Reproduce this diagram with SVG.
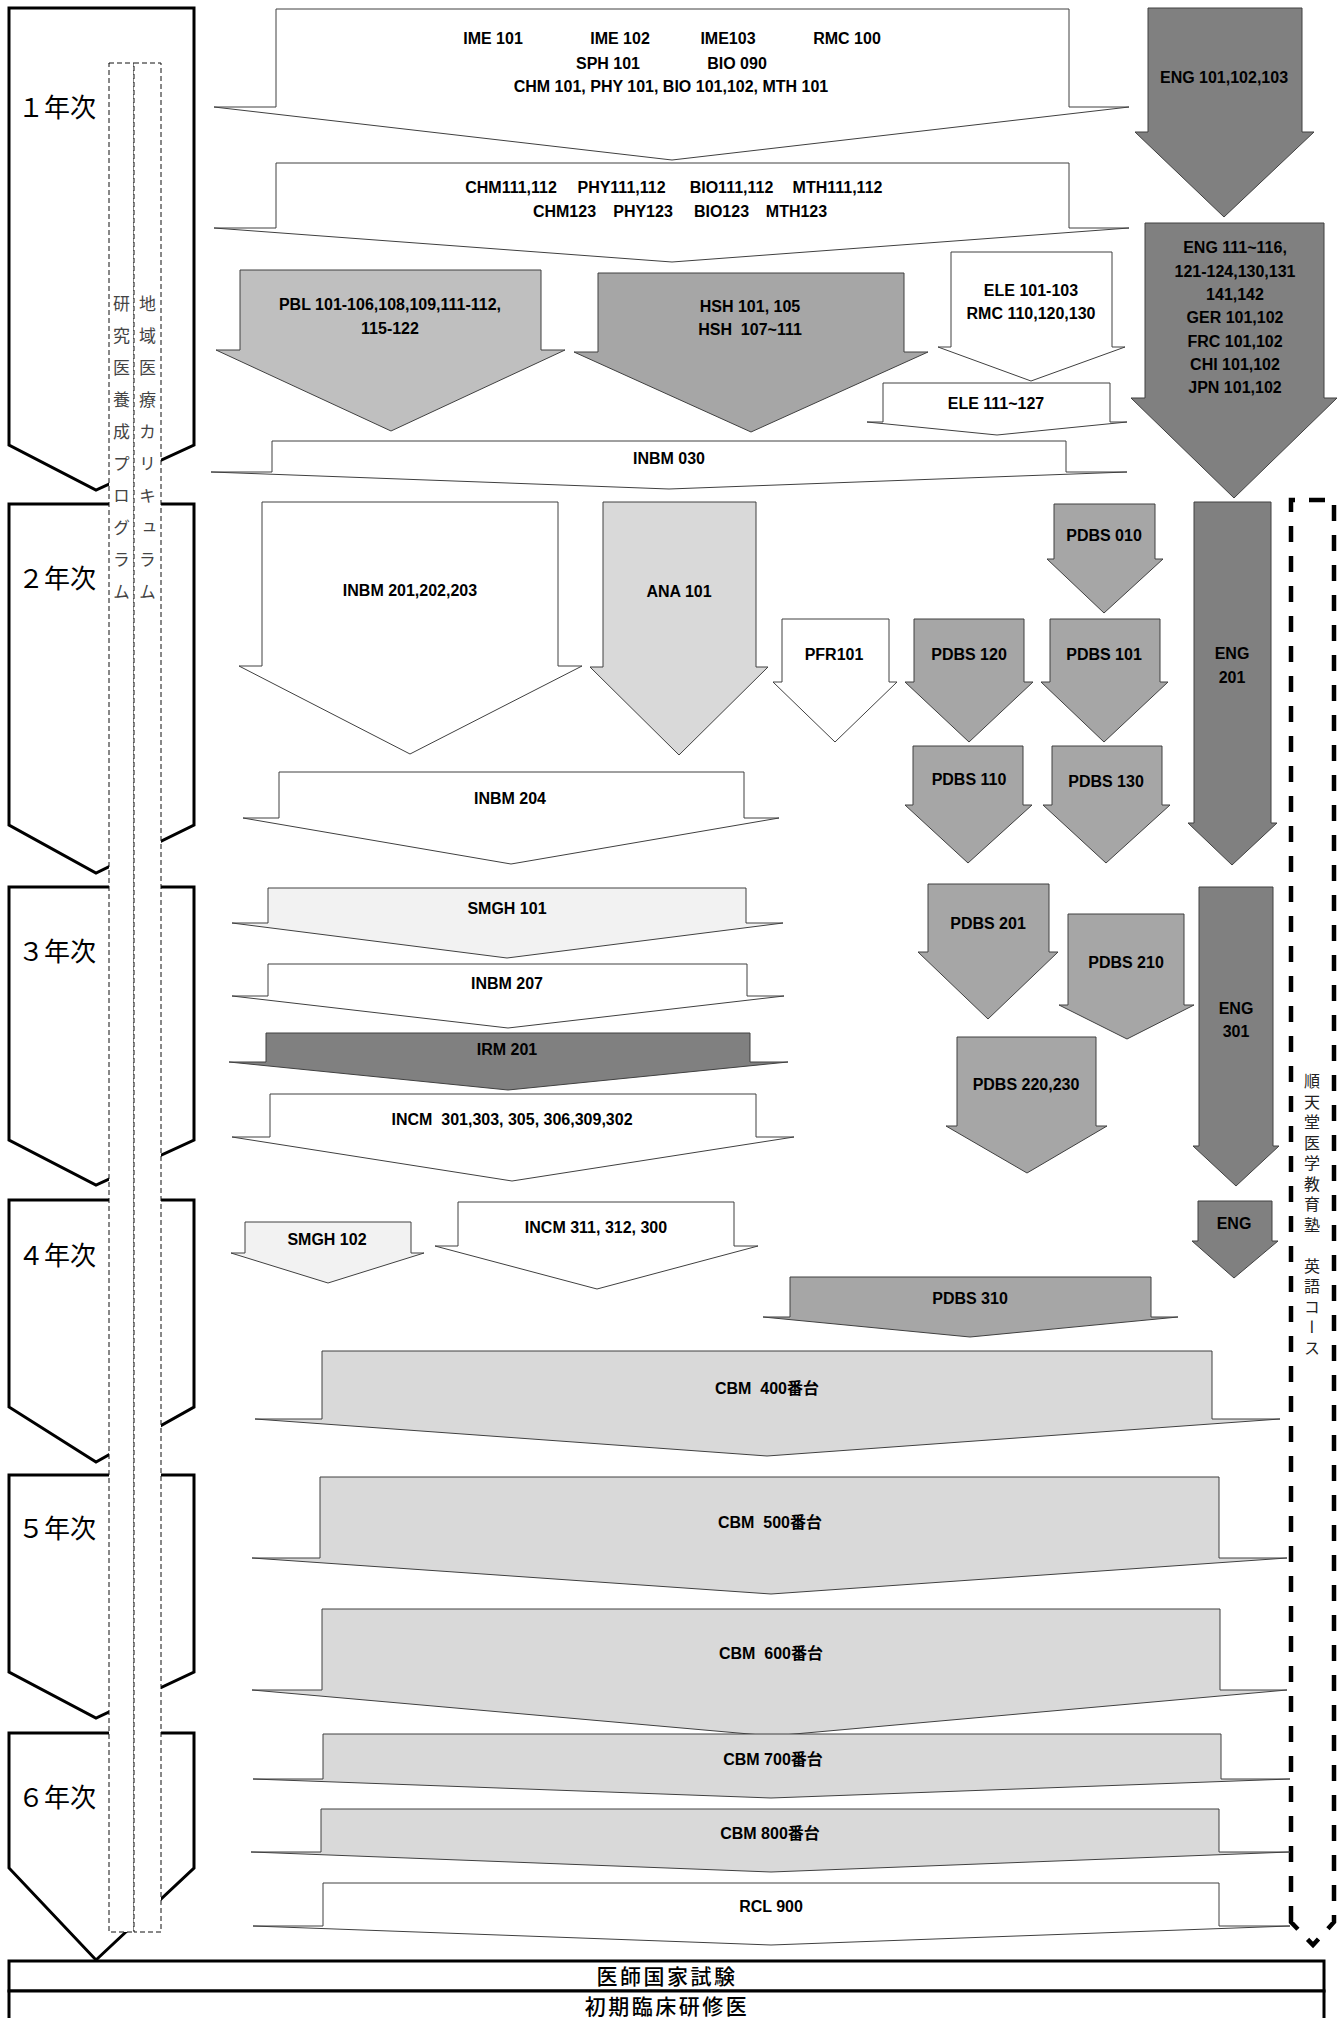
<svg xmlns="http://www.w3.org/2000/svg" width="1343" height="2018" viewBox="0 0 1343 2018">
<style>
.yr{fill:#fff;stroke:#000;stroke-width:3;stroke-linejoin:miter}
.ar{stroke:#404040;stroke-width:1;stroke-linejoin:miter}
.w{fill:#fff}.g1{fill:#f2f2f2}.g2{fill:#d9d9d9}.g3{fill:#bfbfbf}.g4{fill:#a6a6a6}.g5{fill:#808080}
.t{font-family:"Liberation Sans","Noto Sans CJK JP",Arial,sans-serif;font-weight:bold;font-size:16px;fill:#000;text-anchor:middle}
.yl{font-family:"Noto Sans CJK JP",sans-serif;font-size:26px;fill:#000}
.col{fill:#fff;stroke:#111;stroke-width:1;stroke-dasharray:5 3}
.vt{font-family:"Noto Sans CJK JP",sans-serif;font-size:17px;fill:#444;writing-mode:vertical-rl;letter-spacing:15px}
.bt{font-family:"Noto Sans CJK JP",sans-serif;font-size:16px;fill:#222;writing-mode:vertical-rl;letter-spacing:4.5px}
.bx{fill:#fff;stroke:#000;stroke-width:3}
.bxt{font-family:"Noto Sans CJK JP",sans-serif;font-size:21px;font-weight:500;letter-spacing:2.5px;fill:#000;text-anchor:middle}
.br{fill:none;stroke:#000;stroke-width:4.5;stroke-dasharray:16 14}
</style>
<g id="years">
<g id="year1"><path class="yr" d="M9,8 L194,8 L194,445 L96,490 L9,445 Z"/><text class="yl" x="18" y="117">１年次</text></g>
<g id="year2"><path class="yr" d="M9,504 L194,504 L194,825 L96,873 L9,825 Z"/><text class="yl" x="18" y="588">２年次</text></g>
<g id="year3"><path class="yr" d="M9,887 L194,887 L194,1140 L96,1185 L9,1140 Z"/><text class="yl" x="18" y="961">３年次</text></g>
<g id="year4"><path class="yr" d="M9,1200 L194,1200 L194,1407 L96,1462 L9,1407 Z"/><text class="yl" x="18" y="1265">４年次</text></g>
<g id="year5"><path class="yr" d="M9,1475 L194,1475 L194,1672 L96,1718 L9,1672 Z"/><text class="yl" x="18" y="1538">５年次</text></g>
<g id="year6"><path class="yr" d="M9,1733 L194,1733 L194,1868 L96,1960 L9,1868 Z"/><text class="yl" x="18" y="1807">６年次</text></g>
</g>
<g id="columns">
<g id="col-research"><rect class="col" x="109" y="63" width="25" height="1869"/><text class="vt" x="121.5" y="295">研究医養成プログラム</text></g>
<g id="col-community"><rect class="col" x="134" y="63" width="27" height="1869"/><text class="vt" x="147.5" y="295">地域医療カリキュラム</text></g>
</g>
<g id="english-course">
<path class="br" d="M1291,1922 L1291,500 L1334,500 L1334,1922 L1313,1945 Z"/>
<text class="bt" x="1312" y="1073">順天堂医学教育塾　英語コース</text>
</g>
<g id="arrows">
<g id="a-ime"><path class="ar w" d="M276,9 L1069,9 L1069,107 L1129,107 L672,160 L214,107 L276,107 Z"/>
<text class="t" x="493" y="44">IME 101</text><text class="t" x="620" y="44">IME 102</text><text class="t" x="728" y="44">IME103</text><text class="t" x="847" y="44">RMC 100</text>
<text class="t" x="608" y="69">SPH 101</text><text class="t" x="737" y="69">BIO 090</text>
<text class="t" x="671" y="92">CHM 101, PHY 101, BIO 101,102, MTH 101</text></g>
<g id="a-chm"><path class="ar w" d="M276,163 L1069,163 L1069,228 L1129,228 L672,262 L214,228 L276,228 Z"/>
<text class="t" y="193"><tspan x="511">CHM111,112</tspan><tspan x="621.5">PHY111,112</tspan><tspan x="731.5">BIO111,112</tspan><tspan x="837.5">MTH111,112</tspan></text>
<text class="t" y="217"><tspan x="564.5">CHM123</tspan><tspan x="643">PHY123</tspan><tspan x="721.5">BIO123</tspan><tspan x="796.5">MTH123</tspan></text></g>
<g id="a-pbl"><path class="ar g3" d="M240,270 L541,270 L541,350 L565,350 L391,431 L216,350 L240,350 Z"/>
<text class="t" x="390" y="310">PBL 101-106,108,109,111-112,</text><text class="t" x="390" y="334">115-122</text></g>
<g id="a-hsh"><path class="ar g4" d="M598,273 L904,273 L904,352 L928,352 L751,432 L574,352 L598,352 Z"/>
<text class="t" x="750" y="312">HSH 101, 105</text><text class="t" x="750" y="335" xml:space="preserve">HSH  107~111</text></g>
<g id="a-ele1"><path class="ar w" d="M951,252 L1112,252 L1112,347 L1125,347 L1031,381 L938,347 L951,347 Z"/>
<text class="t" x="1031" y="296">ELE 101-103</text><text class="t" x="1031" y="319">RMC 110,120,130</text></g>
<g id="a-ele2"><path class="ar w" d="M883,383 L1110,383 L1110,422 L1127,422 L997,435 L867,422 L883,422 Z"/>
<text class="t" x="996" y="409">ELE 111~127</text></g>
<g id="a-inbm030"><path class="ar w" d="M272,441 L1066,441 L1066,472 L1127,472 L669,489 L211,472 L272,472 Z"/>
<text class="t" x="669" y="464">INBM 030</text></g>
<g id="a-eng1"><path class="ar g5" d="M1148,8 L1302,8 L1302,132 L1314,132 L1224,217 L1135,132 L1148,132 Z"/>
<text class="t" x="1224" y="83">ENG 101,102,103</text></g>
<g id="a-eng2"><path class="ar g5" d="M1145,223 L1324,223 L1324,398 L1337,398 L1234,498 L1131,398 L1145,398 Z"/>
<text class="t" x="1235" y="253">ENG 111~116,</text><text class="t" x="1235" y="277">121-124,130,131</text><text class="t" x="1235" y="300">141,142</text>
<text class="t" x="1235" y="323">GER 101,102</text><text class="t" x="1235" y="347">FRC 101,102</text><text class="t" x="1235" y="370">CHI 101,102</text><text class="t" x="1235" y="393">JPN 101,102</text></g>
<g id="a-inbm201"><path class="ar w" d="M262,502 L558,502 L558,666 L582,666 L410,754 L239,666 L262,666 Z"/>
<text class="t" x="410" y="596">INBM 201,202,203</text></g>
<g id="a-ana"><path class="ar g2" d="M603,502 L756,502 L756,667 L768,667 L679,755 L590,667 L603,667 Z"/>
<text class="t" x="679" y="597">ANA 101</text></g>
<g id="a-pfr"><path class="ar w" d="M782,619 L889,619 L889,682 L897,682 L835,742 L773,682 L782,682 Z"/>
<text class="t" x="834" y="660">PFR101</text></g>
<g id="a-pdbs120"><path class="ar g4" d="M914,619 L1024,619 L1024,682 L1033,682 L969,742 L905,682 L914,682 Z"/>
<text class="t" x="969" y="660">PDBS 120</text></g>
<g id="a-pdbs101"><path class="ar g4" d="M1050,619 L1160,619 L1160,682 L1168,682 L1104,742 L1041,682 L1050,682 Z"/>
<text class="t" x="1104" y="660">PDBS 101</text></g>
<g id="a-pdbs010"><path class="ar g4" d="M1054,504 L1155,504 L1155,559 L1163,559 L1104,613 L1047,559 L1054,559 Z"/>
<text class="t" x="1104" y="541">PDBS 010</text></g>
<g id="a-pdbs110"><path class="ar g4" d="M913,746 L1023,746 L1023,805 L1032,805 L968,863 L905,805 L913,805 Z"/>
<text class="t" x="969" y="785">PDBS 110</text></g>
<g id="a-pdbs130"><path class="ar g4" d="M1052,746 L1162,746 L1162,805 L1170,805 L1106,863 L1043,805 L1052,805 Z"/>
<text class="t" x="1106" y="787">PDBS 130</text></g>
<g id="a-eng201"><path class="ar g5" d="M1194,502 L1271,502 L1271,823 L1277,823 L1232,865 L1188,823 L1194,823 Z"/>
<text class="t" x="1232" y="659">ENG</text><text class="t" x="1232" y="683">201</text></g>
<g id="a-inbm204"><path class="ar w" d="M279,772 L744,772 L744,818 L779,818 L511,864 L243,818 L279,818 Z"/>
<text class="t" x="510" y="804">INBM 204</text></g>
<g id="a-smgh101"><path class="ar g1" d="M268,888 L746,888 L746,923 L783,923 L507,958 L232,923 L268,923 Z"/>
<text class="t" x="507" y="914">SMGH 101</text></g>
<g id="a-inbm207"><path class="ar w" d="M268,964 L747,964 L747,996 L784,996 L508,1028 L232,996 L268,996 Z"/>
<text class="t" x="507" y="989">INBM 207</text></g>
<g id="a-irm201"><path class="ar g5" d="M266,1033 L750,1033 L750,1062 L788,1062 L508,1090 L229,1062 L266,1062 Z"/>
<text class="t" x="507" y="1055">IRM 201</text></g>
<g id="a-incm301"><path class="ar w" d="M270,1094 L756,1094 L756,1137 L794,1137 L512,1181 L232,1137 L270,1137 Z"/>
<text class="t" x="512" y="1125" xml:space="preserve">INCM  301,303, 305, 306,309,302</text></g>
<g id="a-pdbs201"><path class="ar g4" d="M928,884 L1049,884 L1049,952 L1058,952 L988,1019 L918,952 L928,952 Z"/>
<text class="t" x="988" y="929">PDBS 201</text></g>
<g id="a-pdbs210"><path class="ar g4" d="M1068,914 L1184,914 L1184,1005 L1194,1005 L1127,1039 L1059,1005 L1068,1005 Z"/>
<text class="t" x="1126" y="968">PDBS 210</text></g>
<g id="a-pdbs220"><path class="ar g4" d="M957,1037 L1096,1037 L1096,1126 L1107,1126 L1027,1173 L946,1126 L957,1126 Z"/>
<text class="t" x="1026" y="1090">PDBS 220,230</text></g>
<g id="a-eng301"><path class="ar g5" d="M1199,887 L1273,887 L1273,1146 L1279,1146 L1236,1186 L1193,1146 L1199,1146 Z"/>
<text class="t" x="1236" y="1014">ENG</text><text class="t" x="1236" y="1037">301</text></g>
<g id="a-eng4"><path class="ar g5" d="M1198,1201 L1272,1201 L1272,1241 L1278,1241 L1234,1278 L1192,1241 L1198,1241 Z"/>
<text class="t" x="1234" y="1229">ENG</text></g>
<g id="a-pdbs310"><path class="ar g4" d="M790,1277 L1151,1277 L1151,1317 L1178,1317 L970,1337 L763,1317 L790,1317 Z"/>
<text class="t" x="970" y="1304">PDBS 310</text></g>
<g id="a-smgh102"><path class="ar g1" d="M245,1222 L411,1222 L411,1253 L424,1253 L328,1283 L231,1253 L245,1253 Z"/>
<text class="t" x="327" y="1245">SMGH 102</text></g>
<g id="a-incm311"><path class="ar w" d="M458,1202 L734,1202 L734,1246 L758,1246 L597,1289 L435,1246 L458,1246 Z"/>
<text class="t" x="596" y="1233">INCM 311, 312, 300</text></g>
<g id="a-cbm400"><path class="ar g2" d="M322,1351 L1212,1351 L1212,1419 L1280,1419 L767,1456 L255,1419 L322,1419 Z"/>
<text class="t" x="767" y="1394" xml:space="preserve">CBM  400番台</text></g>
<g id="a-cbm500"><path class="ar g2" d="M320,1477 L1219,1477 L1219,1558 L1287,1558 L771,1594 L252,1558 L320,1558 Z"/>
<text class="t" x="770" y="1528" xml:space="preserve">CBM  500番台</text></g>
<g id="a-cbm600"><path class="ar g2" d="M322,1609 L1220,1609 L1220,1690 L1287,1690 L772,1736 L252,1690 L322,1690 Z"/>
<text class="t" x="771" y="1659" xml:space="preserve">CBM  600番台</text></g>
<g id="a-cbm700"><path class="ar g2" d="M323,1734 L1221,1734 L1221,1779 L1290,1779 L771,1798 L253,1779 L323,1779 Z"/>
<text class="t" x="773" y="1765">CBM 700番台</text></g>
<g id="a-cbm800"><path class="ar g2" d="M321,1809 L1219,1809 L1219,1852 L1290,1852 L771,1872 L251,1852 L321,1852 Z"/>
<text class="t" x="770" y="1839">CBM 800番台</text></g>
<g id="a-rcl900"><path class="ar w" d="M323,1883 L1219,1883 L1219,1926 L1290,1926 L771,1945 L253,1926 L323,1926 Z"/>
<text class="t" x="771" y="1912">RCL 900</text></g>
</g>
<g id="exam"><rect class="bx" x="9" y="1961" width="1315" height="30"/><text class="bxt" x="667" y="1984">医師国家試験</text></g>
<g id="residency"><rect class="bx" x="9" y="1991" width="1315" height="40"/><text class="bxt" x="667" y="2014">初期臨床研修医</text></g>
</svg>
